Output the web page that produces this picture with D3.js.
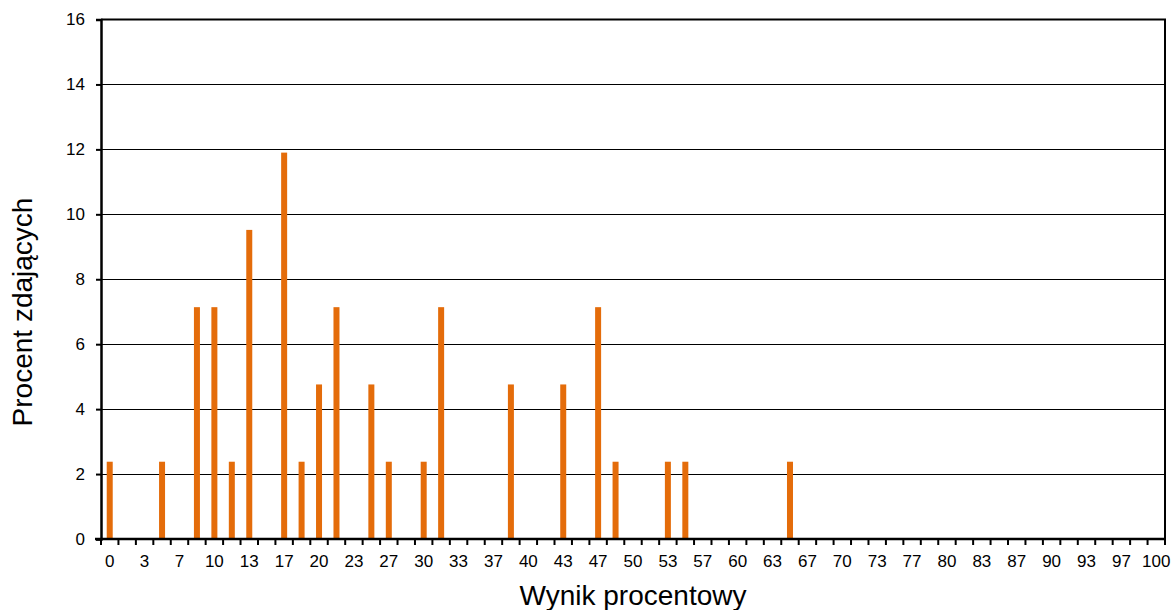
<!DOCTYPE html>
<html>
<head>
<meta charset="utf-8">
<script src="https://cdn.jsdelivr.net/npm/d3@7"></script>
<style>
  html, body { margin: 0; padding: 0; background: #fff; }
  svg { display: block; font-family: "Liberation Sans", Arial, sans-serif; }
</style>
</head>
<body>
<svg id="chart" width="1174" height="610"></svg>
<script>
// Categories: score percentages (0..60 points → 0..100%)
const categories = [0,2,3,5,7,8,10,12,13,15,17,18,20,22,23,25,27,28,30,32,33,35,37,38,40,42,43,45,47,48,50,52,53,55,57,58,60,62,63,65,67,68,70,72,73,75,77,78,80,82,83,85,87,88,90,92,93,95,97,98,100];
// Percent of examinees per category
const values = [
  2.38,0,0,2.38,0,7.14,7.14,2.38,9.52,0,
  11.9,2.38,4.76,7.14,0,4.76,2.38,0,2.38,7.14,
  0,0,0,4.76,0,0,4.76,0,7.14,2.38,
  0,0,2.38,2.38,0,0,0,0,0,2.38,
  0,0,0,0,0,0,0,0,0,0,
  0,0,0,0,0,0,0,0,0,0,0
];
const yTicks = [0,2,4,6,8,10,12,14,16];
const xLabelIdx = categories.map((c,i)=>i).filter(i => i % 2 === 0);
const yTitle = "Procent zdających";
const xTitle = "Wynik procentowy";

const svg = d3.select("#chart");
const m = {left: 101, top: 19.5, right: 1165, bottom: 539};

const x = d3.scaleBand().domain(d3.range(categories.length)).range([m.left, m.right]).paddingInner(0).paddingOuter(0);
const y = d3.scaleLinear().domain([0, 16]).range([m.bottom, m.top]);

// gridlines
svg.append("g").selectAll("line").data(yTicks.filter(t => t > 0 && t < 16)).join("line")
  .attr("x1", m.left).attr("x2", m.right)
  .attr("y1", d => Math.round(y(d)) + 0.5).attr("y2", d => Math.round(y(d)) + 0.5)
  .attr("stroke", "#000").attr("stroke-width", 1.2);

// plot border (top & right)
svg.append("path")
  .attr("d", `M${m.left},${m.top}H${m.right}V${m.bottom}`)
  .attr("fill", "none").attr("stroke", "#000").attr("stroke-width", 2);

// bars
const bw = 6;
svg.append("g").selectAll("rect").data(values.map((v,i)=>({v,i})).filter(d => d.v > 0)).join("rect")
  .attr("x", d => x(d.i) + x.bandwidth()/2 - bw/2)
  .attr("width", bw)
  .attr("y", d => y(d.v))
  .attr("height", d => y(0) - y(d.v))
  .attr("fill", "#E46C0A");

// y axis
const yAxis = d3.axisLeft(y).tickValues(yTicks).tickSize(5).tickPadding(11).tickFormat(d3.format("d"));
const gy = svg.append("g").attr("transform", `translate(${m.left},0)`).call(yAxis);
gy.select(".domain").attr("stroke-width", 2.5);
gy.selectAll(".tick line").attr("stroke-width", 2);
gy.selectAll("text").attr("font-size", 17).attr("fill", "#000").attr("font-family", "Liberation Sans, Arial, sans-serif");

// x axis: ticks between categories
const boundaries = d3.range(categories.length + 1).map(i => m.left + i * x.bandwidth());
const gx = svg.append("g");
gx.append("line").attr("x1", m.left - 6).attr("x2", m.right).attr("y1", m.bottom).attr("y2", m.bottom)
  .attr("stroke", "#000").attr("stroke-width", 2.5);
gx.selectAll("line.tk").data(boundaries).join("line").attr("class", "tk")
  .attr("x1", d => d).attr("x2", d => d).attr("y1", m.bottom).attr("y2", m.bottom + 6)
  .attr("stroke", "#000").attr("stroke-width", 2);
gx.selectAll("text").data(xLabelIdx).join("text")
  .attr("x", i => x(i) + x.bandwidth()/2)
  .attr("y", 567)
  .attr("text-anchor", "middle")
  .attr("font-size", 17)
  .attr("fill", "#000")
  .text(i => categories[i]);

// titles
svg.append("text")
  .attr("transform", `translate(32, 312) rotate(-90)`)
  .attr("text-anchor", "middle")
  .attr("font-size", 28)
  .attr("fill", "#000")
  .text(yTitle);
svg.append("text")
  .attr("x", 633)
  .attr("y", 605)
  .attr("text-anchor", "middle")
  .attr("font-size", 28)
  .attr("fill", "#000")
  .text(xTitle);
</script>
</body>
</html>
